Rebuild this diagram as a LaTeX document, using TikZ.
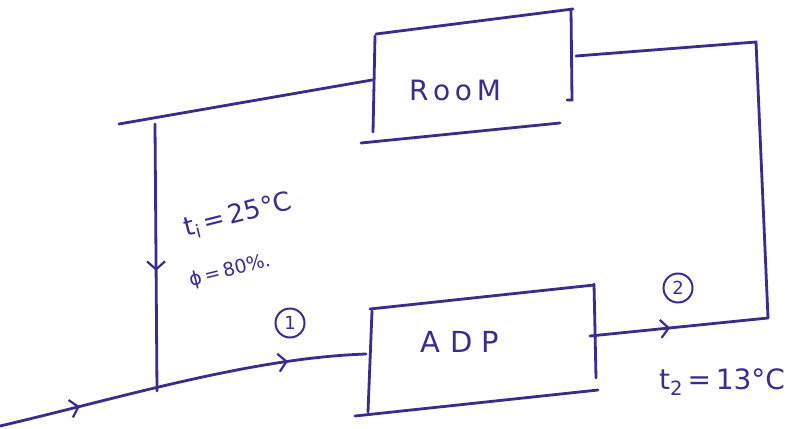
\documentclass[tikz,border=0pt]{standalone}
\usepackage{fontspec}
\setmainfont{DejaVu Sans}
\usetikzlibrary{arrows.meta,decorations.markings}
\definecolor{inkc}{HTML}{3A2C8E}
\begin{document}
\begin{tikzpicture}[x=1pt,y=-1pt,
  ink/.style={draw=inkc, line width=2.8pt, line cap=round},
  lbl/.style={text=inkc, inner sep=0pt},
  num/.style={draw=inkc, line width=2pt, circle, text=inkc, inner sep=0pt,
    minimum size=29pt, font=\fontsize{18}{18}\selectfont},
  flowmark/.style={postaction={decorate, decoration={markings,
    mark=at position #1 with {\arrow[inkc, line width=2.2pt]{Straight Barb[length=8pt,width=18pt]}}}}}
]
\useasboundingbox[fill=white] (0,0) rectangle (797,428);

% key points of the loop
\coordinate (in0) at (0,426);
\coordinate (adpL) at (366,354);
\coordinate (jn) at (157,391);
\coordinate (topL) at (119,124);
\coordinate (roomL) at (372,80);
\coordinate (roomR) at (576,56);
\coordinate (c1) at (756,42);
\coordinate (c2) at (768,318);
\coordinate (adpR) at (590,336);

% room (open hand-drawn box)
\draw[ink] (376,34) -- (573,9);
\draw[ink] (375,36) -- (373,132);
\draw[ink] (361,143) -- (560,123);
\draw[ink] (571,9) -- (572,100) -- (567,100);
\node[lbl, font=\fontsize{28}{28}\selectfont] (room) at (455,90) {R\,o\,o\,M};

% air distribution plant (open hand-drawn box)
\draw[ink] (370,309) -- (594,285);
\draw[ink] (372,311) -- (368,412);
\draw[ink] (355,416) -- (598,390);
\draw[ink] (594,284) -- (596,378);
\node[lbl, font=\fontsize{29}{29}\selectfont] (adp) at (460,342) {A\,\,D\,\,P};

% inlet and mixing line
\draw[ink, flowmark=0.22, flowmark=0.79] (in0) .. controls (120,398) and (250,358) .. (adpL);
% return branch
\draw[ink] (topL) -- (roomL);
\draw[ink, flowmark=0.55] (155,124) -- (jn);
% room outlet back round to the plant outlet
\draw[ink] (roomR) -- (c1) -- (c2);
\draw[ink, flowmark=0.45] (adpR) -- (c2);

% state labels
\node[num] (n1) at (290,323) {1};
\node[num] (n2) at (678,288) {2};
\node[lbl, rotate=14, font=\fontsize{26}{26}\selectfont] (ti) at (238,216) {t\textsubscript{i}\,=\,25°C};
\node[lbl, rotate=14, font=\fontsize{19}{19}\selectfont] (phi) at (230,271) {ϕ\,=\,80\%.};
\node[lbl, font=\fontsize{28}{28}\selectfont] (t2) at (722,382) {t\textsubscript{2}\,=\,13°C};
\end{tikzpicture}
\end{document}
